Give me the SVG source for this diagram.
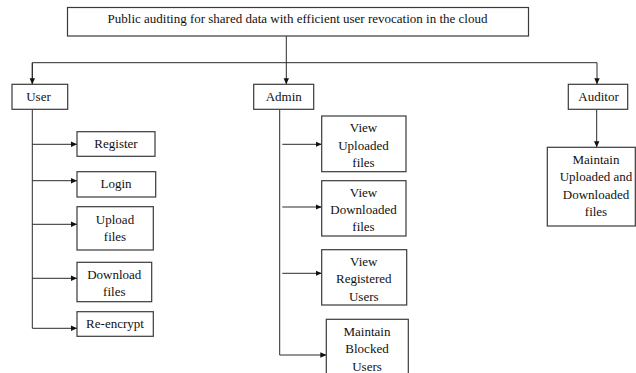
<svg xmlns="http://www.w3.org/2000/svg" width="636" height="373" viewBox="0 0 636 373">
<style>
.box{fill:#fff;stroke:#3a3a3a;stroke-width:1.2}
.ln{fill:none;stroke:#2a2a2a;stroke-width:1}
.t{font-family:'Liberation Serif','DejaVu Serif',serif;font-size:13px;fill:#111;text-anchor:middle}
</style>
<defs>
<marker id="ah" viewBox="0 0 6 6" refX="6" refY="3" markerWidth="6" markerHeight="6" markerUnits="userSpaceOnUse" orient="auto">
<path d="M0,0.3 L6,3 L0,5.7 Z" fill="#111"/>
</marker>
</defs>
<rect width="636" height="373" fill="#fff"/>
<g id="connectors">
<path class="ln" d="M286.3,36 V84.3" marker-end="url(#ah)"/>
<path class="ln" d="M32.3,84.3 V62.7 H597 V84.3" marker-end="url(#ah)"/>
<path class="ln" d="M32.3,62.7 V84.3" marker-end="url(#ah)"/>
<path class="ln" d="M32.3,109.3 V328.3 H77" marker-end="url(#ah)"/>
<path class="ln" d="M32.3,144.3 H77" marker-end="url(#ah)"/>
<path class="ln" d="M32.3,180.7 H77" marker-end="url(#ah)"/>
<path class="ln" d="M32.3,224.3 H77" marker-end="url(#ah)"/>
<path class="ln" d="M32.3,278.3 H77" marker-end="url(#ah)"/>
<path class="ln" d="M279.7,109.3 V355 H326.3" marker-end="url(#ah)"/>
<path class="ln" d="M282.3,144.3 H321.7" marker-end="url(#ah)"/>
<path class="ln" d="M282.3,207 H321.7" marker-end="url(#ah)"/>
<path class="ln" d="M282.3,273.3 H321.7" marker-end="url(#ah)"/>
<path class="ln" d="M596.7,109.3 V147.3" marker-end="url(#ah)"/>
</g>
<g class="t" font-family="Liberation Serif, DejaVu Serif, serif">
<g id="root"><rect class="box" x="67.5" y="7.5" width="461" height="28.5"/><text x="297.5" y="22.5">Public auditing for shared data with efficient user revocation in the cloud</text></g>
<g id="user"><rect class="box" x="12" y="84.3" width="55.7" height="25"/><text x="38.5" y="101">User</text></g>
<g id="admin"><rect class="box" x="253.7" y="84.3" width="60" height="25"/><text x="283.7" y="101">Admin</text></g>
<g id="auditor"><rect class="box" x="568.3" y="84.3" width="59.4" height="25"/><text x="598.5" y="101">Auditor</text></g>
<g id="register"><rect class="box" x="77" y="131.7" width="78" height="24.6"/><text x="116" y="148">Register</text></g>
<g id="login"><rect class="box" x="77" y="171.7" width="78.7" height="25.3"/><text x="116" y="188">Login</text></g>
<g id="upload"><rect class="box" x="77" y="206.7" width="76.3" height="43.3"/><text x="115" y="223.5">Upload</text><text x="115" y="240.5">files</text></g>
<g id="download"><rect class="box" x="77" y="262.3" width="74.7" height="39.4"/><text x="114.3" y="278.5">Download</text><text x="114.3" y="295.5">files</text></g>
<g id="reencrypt"><rect class="box" x="77" y="311.7" width="76.3" height="24.6"/><text x="115" y="327.5">Re-encrypt</text></g>
<g id="view-uploaded"><rect class="box" x="321.7" y="116" width="84.3" height="55.7"/><text x="363.5" y="132">View</text><text x="363.5" y="149.5">Uploaded</text><text x="363.5" y="167">files</text></g>
<g id="view-downloaded"><rect class="box" x="321.7" y="180.7" width="84.3" height="55.3"/><text x="363.5" y="197">View</text><text x="363.5" y="214">Downloaded</text><text x="363.5" y="231">files</text></g>
<g id="view-registered"><rect class="box" x="321.7" y="249.7" width="85" height="55.3"/><text x="363.8" y="265.5">View</text><text x="363.8" y="282.5">Registered</text><text x="363.8" y="300.5">Users</text></g>
<g id="maintain-blocked"><rect class="box" x="326.3" y="319.3" width="82" height="70"/><text x="367" y="335.5">Maintain</text><text x="367" y="353">Blocked</text><text x="367" y="370.5">Users</text></g>
<g id="maintain-files"><rect class="box" x="547.3" y="147.3" width="88" height="78.7"/><text x="596" y="163.5">Maintain</text><text x="596" y="181">Uploaded and</text><text x="596" y="198.5">Downloaded</text><text x="596" y="215.5">files</text></g>
</g>
</svg>
